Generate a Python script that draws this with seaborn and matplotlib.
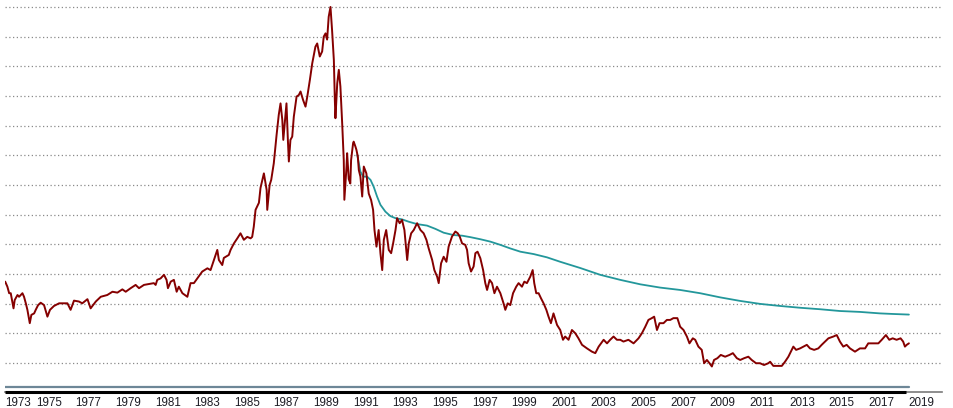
import numpy as np
import pandas as pd
import matplotlib
matplotlib.use("Agg")
import matplotlib.pyplot as plt
import matplotlib.transforms as mtransforms
import seaborn as sns

# ---------------- data ----------------
red_years = [
    1973.56, 1973.67, 1973.76, 1973.84, 1973.98, 1974.04, 1974.18, 1974.26, 1974.43, 1974.51,
    1974.60, 1974.68, 1974.80, 1974.88, 1975.02, 1975.10, 1975.22, 1975.35, 1975.52, 1975.69,
    1975.82, 1976.02, 1976.28, 1976.53, 1976.70, 1976.86, 1977.03, 1977.28, 1977.45, 1977.71,
    1977.87, 1978.13, 1978.38, 1978.71, 1978.97, 1979.22, 1979.47, 1979.64, 1979.89, 1980.14,
    1980.31, 1980.56, 1980.81, 1981.06, 1981.15, 1981.23, 1981.40, 1981.57, 1981.70, 1981.77,
    1981.91, 1982.07, 1982.21, 1982.32, 1982.50, 1982.75, 1982.91, 1983.08, 1983.25, 1983.50,
    1983.76, 1983.92, 1984.09, 1984.26, 1984.34, 1984.51, 1984.59, 1984.84, 1984.93, 1985.10,
    1985.27, 1985.43, 1985.60, 1985.77, 1985.94, 1986.02, 1986.10, 1986.19, 1986.36, 1986.44,
    1986.61, 1986.75, 1986.78, 1986.90, 1986.98, 1987.11, 1987.25, 1987.36, 1987.45, 1987.54,
    1987.59, 1987.70, 1987.75, 1987.82, 1987.87, 1987.95, 1988.04, 1988.12, 1988.26, 1988.37,
    1988.46, 1988.59, 1988.71, 1988.80, 1988.93, 1989.05, 1989.21, 1989.30, 1989.43, 1989.55,
    1989.63, 1989.72, 1989.80, 1989.88, 1989.97, 1990.05, 1990.14, 1990.19, 1990.22, 1990.31,
    1990.39, 1990.47, 1990.56, 1990.61, 1990.64, 1990.67, 1990.78, 1990.81, 1990.89, 1990.97,
    1991.01, 1991.11, 1991.14, 1991.23, 1991.28, 1991.35, 1991.40, 1991.48, 1991.57, 1991.65,
    1991.78, 1991.90, 1992.02, 1992.12, 1992.19, 1992.29, 1992.40, 1992.49, 1992.58, 1992.66,
    1992.78, 1992.91, 1993.03, 1993.13, 1993.25, 1993.33, 1993.46, 1993.58, 1993.70, 1993.84,
    1993.92, 1994.04, 1994.17, 1994.34, 1994.51, 1994.67, 1994.81, 1994.92, 1995.10, 1995.21,
    1995.35, 1995.43, 1995.55, 1995.68, 1995.82, 1995.93, 1996.10, 1996.27, 1996.39, 1996.49,
    1996.61, 1996.77, 1996.86, 1996.94, 1997.06, 1997.19, 1997.28, 1997.39, 1997.53, 1997.67,
    1997.78, 1997.87, 1998.00, 1998.12, 1998.24, 1998.37, 1998.54, 1998.70, 1998.79, 1998.91,
    1999.04, 1999.18, 1999.34, 1999.46, 1999.63, 1999.75, 1999.88, 2000.05, 2000.17, 2000.25,
    2000.35, 2000.47, 2000.59, 2000.72, 2000.86, 2000.97, 2001.09, 2001.22, 2001.40, 2001.56,
    2001.70, 2001.81, 2001.98, 2002.15, 2002.32, 2002.48, 2002.66, 2002.91, 2003.16, 2003.33,
    2003.50, 2003.75, 2003.92, 2004.08, 2004.25, 2004.42, 2004.59, 2004.75, 2005.00, 2005.26,
    2005.51, 2005.68, 2005.85, 2006.01, 2006.18, 2006.30, 2006.44, 2006.57, 2006.77, 2006.94,
    2007.11, 2007.27, 2007.47, 2007.61, 2007.78, 2007.95, 2008.08, 2008.25, 2008.37, 2008.53,
    2008.70, 2008.82, 2008.96, 2009.09, 2009.21, 2009.32, 2009.49, 2009.66, 2009.88, 2010.10,
    2010.27, 2010.47, 2010.64, 2010.84, 2011.05, 2011.22, 2011.44, 2011.64, 2011.84, 2012.06,
    2012.15, 2012.31, 2012.52, 2012.74, 2012.90, 2013.07, 2013.24, 2013.32, 2013.46, 2013.66,
    2013.83, 2014.00, 2014.16, 2014.37, 2014.58, 2014.75, 2014.92, 2015.09, 2015.34, 2015.51,
    2015.67, 2015.84, 2016.01, 2016.18, 2016.43, 2016.68, 2016.94, 2017.10, 2017.35, 2017.61,
    2017.78, 2017.99, 2018.16, 2018.33, 2018.53, 2018.73, 2018.86, 2018.95, 2019.04, 2019.15,
]
red_values = [
    27.4, 25.7, 23.5, 23.5, 18.4, 21.2, 22.9, 22.3, 23.5, 22.3,
    20.1, 17.9, 13.4, 16.2, 16.7, 17.9, 19.5, 20.3, 19.5, 15.6,
    17.9, 19.2, 20.1, 20.1, 20.1, 17.9, 21.0, 20.7, 20.1, 21.5,
    18.4, 20.7, 22.3, 22.9, 24.0, 23.7, 24.8, 24.0, 25.2, 26.3,
    25.2, 26.3, 26.6, 26.9, 26.3, 28.0, 28.5, 29.7, 28.0, 25.2,
    27.4, 28.0, 24.0, 25.7, 23.5, 22.3, 26.9, 26.9, 28.5, 30.8,
    31.9, 31.3, 34.7, 38.1, 34.7, 33.0, 35.4, 36.4, 38.1, 40.3,
    42.0, 43.7, 41.5, 42.5, 42.0, 42.5, 45.9, 51.6, 54.0, 59.0,
    63.9, 58.3, 51.6, 60.0, 61.7, 67.3, 76.8, 83.6, 87.5, 81.9,
    75.2, 83.6, 87.5, 75.2, 67.9, 75.2, 76.3, 83.0, 89.8, 90.3,
    91.5, 88.6, 86.4, 89.8, 95.4, 101.0, 106.6, 107.7, 103.3, 105.0,
    110.0, 111.1, 109.0, 116.7, 120.0, 112.2, 102.1, 88.6, 82.5, 94.2,
    98.8, 93.2, 80.8, 72.9, 68.4, 55.0, 66.2, 70.7, 62.0, 60.5,
    68.4, 74.0, 74.6, 72.9, 71.8, 69.5, 65.0, 62.8, 56.1, 66.2,
    63.9, 57.1, 54.9, 51.6, 44.8, 39.2, 44.8, 37.0, 31.3, 41.5,
    44.8, 38.1, 37.0, 40.3, 44.8, 48.8, 47.1, 48.2, 44.8, 34.7,
    40.3, 43.7, 44.8, 47.1, 44.8, 43.7, 41.5, 38.7, 34.7, 31.3,
    29.1, 26.9, 33.6, 35.8, 34.1, 39.2, 42.6, 44.3, 43.7, 42.6,
    40.3, 39.8, 38.1, 33.6, 30.8, 32.5, 37.0, 37.5, 35.3, 31.3,
    26.9, 24.6, 28.0, 26.9, 23.5, 25.7, 23.5, 20.1, 17.9, 20.1,
    19.5, 23.5, 25.7, 26.9, 25.7, 27.4, 26.9, 29.1, 31.3, 26.9,
    23.5, 23.5, 21.8, 20.1, 17.9, 15.6, 13.4, 16.7, 12.8, 11.1,
    7.8, 8.9, 7.8, 11.1, 10.0, 8.3, 6.1, 4.9, 3.8, 3.3,
    5.5, 7.8, 6.6, 7.8, 8.9, 7.8, 7.8, 7.2, 7.8, 6.6,
    8.3, 10.0, 12.2, 14.5, 15.1, 15.6, 11.1, 13.4, 13.4, 14.5,
    14.5, 15.1, 15.1, 12.2, 11.1, 8.9, 6.6, 8.3, 7.8, 5.5,
    4.4, -0.1, 1.0, -0.1, -1.2, 1.0, 1.6, 2.7, 2.1, 2.7,
    3.3, 1.6, 1.0, 1.6, 2.1, 1.0, -0.1, -0.1, -0.7, -0.1,
    0.4, -1.0, -1.0, -1.0, 0.4, 2.1, 4.4, 5.5, 4.4, 4.9,
    5.5, 6.1, 4.9, 4.4, 4.9, 6.1, 7.2, 8.3, 8.9, 9.4,
    7.2, 5.5, 6.1, 4.9, 3.8, 4.9, 4.9, 6.6, 6.6, 6.6,
    7.8, 9.4, 7.8, 8.3, 7.8, 8.3, 7.2, 5.5, 6.1, 6.6,
]

teal_years = [
    1991.32, 1991.40, 1991.48, 1991.62, 1991.82, 1991.99, 1992.15, 1992.32, 1992.49, 1992.74,
    1992.99, 1993.25, 1993.58, 1993.92, 1994.34, 1994.84, 1995.26, 1995.68, 1995.93, 1996.18,
    1996.61, 1997.03, 1997.53, 1998.03, 1998.54, 1999.04, 1999.55, 2000.22, 2000.89, 2001.56,
    2002.57, 2003.58, 2004.59, 2005.60, 2006.60, 2007.61, 2008.62, 2009.63, 2010.64, 2011.65,
    2012.66, 2013.66, 2014.67, 2015.67, 2016.68, 2017.69, 2018.36, 2019.15,
]
teal_values = [
    70.1, 67.3, 64.5, 62.8, 62.8, 61.7, 59.4, 56.1, 53.3, 51.0,
    49.5, 48.8, 48.4, 47.6, 46.8, 46.3, 45.2, 43.9, 43.5, 43.1,
    42.9, 42.4, 41.7, 40.9, 39.8, 38.6, 37.5, 36.7, 35.6, 34.1,
    32.0, 29.7, 28.0, 26.5, 25.4, 24.6, 23.5, 22.1, 20.9, 19.9,
    19.2, 18.6, 18.1, 17.5, 17.2, 16.7, 16.5, 16.3,
]

base_years = [1973.56, 2019.15]
base_values = [-8.1, -8.1]

tick_years = list(range(1975, 2020, 2))
tick_labels = [str(y) for y in tick_years]
first_label = "1973"

# ---------------- build table ----------------
df = pd.concat([
    pd.DataFrame({"year": red_years, "value": red_values, "series": "red"}),
    pd.DataFrame({"year": teal_years, "value": teal_values, "series": "teal"}),
    pd.DataFrame({"year": base_years, "value": base_values, "series": "base"}),
], ignore_index=True)

sns.set_theme(style="white")
plt.rcParams["font.family"] = ["Liberation Sans", "DejaVu Sans"]

fig = plt.figure(figsize=(9.54, 4.08), dpi=100)
W, H = 954, 408
ax = fig.add_axes([5 / W, (H - 392) / H, (942 - 5) / W, (392 - 4) / H])

palette = {"red": "#850000", "teal": "#23979b", "base": "#6d8797"}
widths = {"red": 1.4, "teal": 1.3, "base": 1.6}
for key in ["base", "teal", "red"]:
    sub = df[df["series"] == key]
    sns.lineplot(data=sub, x="year", y="value", ax=ax, color=palette[key],
                 linewidth=widths[key], estimator=None, sort=False, legend=False,
                 zorder=3 if key == "red" else 2)

xmin, xmax = 1973.55, 2020.82
ymin, ymax = -9.8, 121.0
ax.set_xlim(xmin, xmax)
ax.set_ylim(ymin, ymax)
ax.set_xlabel("")
ax.set_ylabel("")

# gridlines
ax.set_yticks(np.arange(0, 121, 10))
ax.set_yticklabels([])
ax.tick_params(axis="y", length=0)
ax.grid(axis="y", linestyle=(0, (1, 2)), color="#8a8a8a", linewidth=0.9)
ax.grid(axis="x", visible=False)

for s in ["left", "right", "top"]:
    ax.spines[s].set_visible(False)
ax.spines["bottom"].set_color("#7a7a7a")
ax.spines["bottom"].set_linewidth(1.2)
ax.plot([xmin, 2019.0], [ymin, ymin], color="black", linewidth=2.2,
        clip_on=False, zorder=5, solid_capstyle="butt")

# x ticks
ax.set_xticks(tick_years)
ax.set_xticklabels(tick_labels)
ax.tick_params(axis="x", direction="out", length=3, width=1, color="#555555",
               pad=0.3, labelsize=8.4, labelcolor="#1c1c24")
offset = mtransforms.ScaledTranslation(2 / 100, 0, fig.dpi_scale_trans)
for lab in ax.get_xticklabels():
    lab.set_horizontalalignment("left")
    lab.set_transform(lab.get_transform() + offset)

trans = mtransforms.blended_transform_factory(ax.transAxes, ax.transAxes)
ax.text(0.0, 0.0, first_label,
        transform=trans + mtransforms.ScaledTranslation(0, -4.5 / 100, fig.dpi_scale_trans),
        ha="left", va="top", fontsize=8.4, color="#1c1c24")

fig.savefig("out.png", dpi=100)
